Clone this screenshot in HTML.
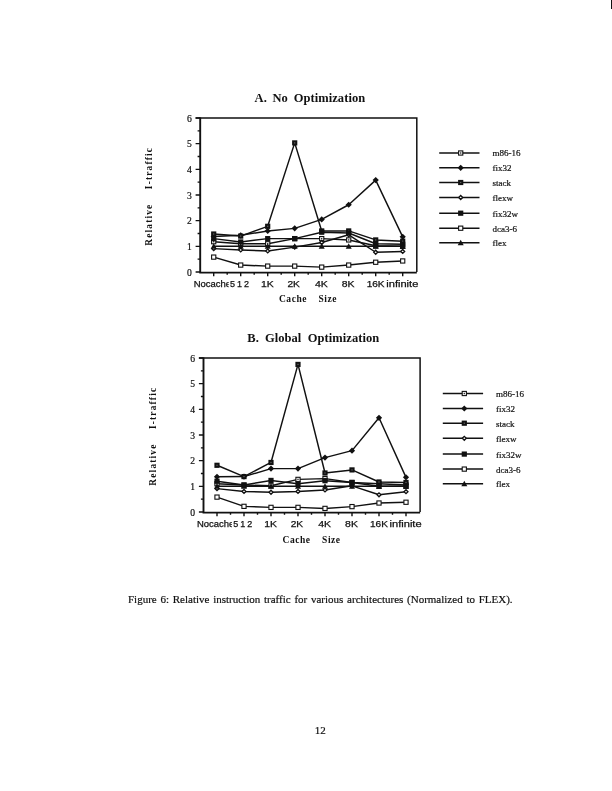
<!DOCTYPE html>
<html lang="en"><head><meta charset="utf-8"><title>Figure 6</title>
<style>
html,body{margin:0;padding:0;background:#fff;}
body{width:612px;height:791px;position:relative;overflow:hidden;font-family:"Liberation Serif",serif;color:#111;}
svg{position:absolute;left:0;top:0;}
svg text{fill:#111;white-space:pre;}
.yt{font:9.6px "Liberation Serif",serif;stroke:#111;stroke-width:0.2px;}
.xt{font:9px "Liberation Sans",sans-serif;stroke:#111;stroke-width:0.25px;}
.ttl{font:bold 12.5px "Liberation Serif",serif;letter-spacing:0.06px;}
.tb{letter-spacing:0.15px;}
.axl{font:bold 10px "Liberation Serif",serif;}
.xl{font-size:9.5px;letter-spacing:0.55px;word-spacing:0.9px;}
.yl{font-size:9.3px;letter-spacing:1.2px;word-spacing:1.3px;}
.lg{font:9px "Liberation Serif",serif;stroke:#111;stroke-width:0.2px;}
.cap{position:absolute;left:128.0px;top:591.6px;font-size:11px;line-height:14px;white-space:pre;word-spacing:1.0px;-webkit-text-stroke:0.2px #111;}
.pn{position:absolute;left:314.8px;top:722.5px;font-size:11px;line-height:14px;-webkit-text-stroke:0.2px #111;}
.mark{position:absolute;left:610.5px;top:0;width:2px;height:9px;background:#111;}
</style></head><body>
<svg width="612" height="791" viewBox="0 0 612 791">
<path d="M195.6 118.0H416.8V272.0" fill="none" stroke="#111" stroke-width="1.5"/>
<path d="M200.2 117.5V272.6H416.8" fill="none" stroke="#111" stroke-width="1.9"/>
<path d="M195.6 272.00H200.2 M197.6 259.17H200.2 M195.6 246.33H200.2 M197.6 233.50H200.2 M195.6 220.67H200.2 M197.6 207.83H200.2 M195.6 195.00H200.2 M197.6 182.17H200.2 M195.6 169.33H200.2 M197.6 156.50H200.2 M195.6 143.67H200.2 M197.6 130.83H200.2 M195.6 118.00H200.2 M213.70 272.0V276.2 M227.20 272.0V274.7 M240.70 272.0V276.2 M254.20 272.0V274.7 M267.70 272.0V276.2 M281.20 272.0V274.7 M294.70 272.0V276.2 M308.20 272.0V274.7 M321.70 272.0V276.2 M335.20 272.0V274.7 M348.70 272.0V276.2 M362.20 272.0V274.7 M375.70 272.0V276.2 M389.20 272.0V274.7 M402.70 272.0V276.2" stroke="#111" stroke-width="1.4" fill="none"/>
<text class="yt" x="191.7" y="275.50" text-anchor="end">0</text>
<text class="yt" x="191.7" y="249.83" text-anchor="end">1</text>
<text class="yt" x="191.7" y="224.17" text-anchor="end">2</text>
<text class="yt" x="191.7" y="198.50" text-anchor="end">3</text>
<text class="yt" x="191.7" y="172.83" text-anchor="end">4</text>
<text class="yt" x="191.7" y="147.17" text-anchor="end">5</text>
<text class="yt" x="191.7" y="121.50" text-anchor="end">6</text>
<polyline points="213.70,241.71 240.70,243.77 267.70,243.77 294.70,238.63 321.70,238.63 348.70,239.92 375.70,245.82 402.70,246.33" fill="none" stroke="#111" stroke-width="1.45" stroke-linejoin="round"/>
<rect x="211.60" y="239.61" width="4.2" height="4.2" fill="#fff" stroke="#111" stroke-width="1.1"/><rect x="213.00" y="241.01" width="1.4" height="1.4" fill="#333"/>
<rect x="238.60" y="241.67" width="4.2" height="4.2" fill="#fff" stroke="#111" stroke-width="1.1"/><rect x="240.00" y="243.07" width="1.4" height="1.4" fill="#333"/>
<rect x="265.60" y="241.67" width="4.2" height="4.2" fill="#fff" stroke="#111" stroke-width="1.1"/><rect x="267.00" y="243.07" width="1.4" height="1.4" fill="#333"/>
<rect x="292.60" y="236.53" width="4.2" height="4.2" fill="#fff" stroke="#111" stroke-width="1.1"/><rect x="294.00" y="237.93" width="1.4" height="1.4" fill="#333"/>
<rect x="319.60" y="236.53" width="4.2" height="4.2" fill="#fff" stroke="#111" stroke-width="1.1"/><rect x="321.00" y="237.93" width="1.4" height="1.4" fill="#333"/>
<rect x="346.60" y="237.82" width="4.2" height="4.2" fill="#fff" stroke="#111" stroke-width="1.1"/><rect x="348.00" y="239.22" width="1.4" height="1.4" fill="#333"/>
<rect x="373.60" y="243.72" width="4.2" height="4.2" fill="#fff" stroke="#111" stroke-width="1.1"/><rect x="375.00" y="245.12" width="1.4" height="1.4" fill="#333"/>
<rect x="400.60" y="244.23" width="4.2" height="4.2" fill="#fff" stroke="#111" stroke-width="1.1"/><rect x="402.00" y="245.63" width="1.4" height="1.4" fill="#333"/>
<polyline points="213.70,236.58 240.70,235.30 267.70,230.93 294.70,228.37 321.70,219.38 348.70,204.75 375.70,180.11 402.70,236.84" fill="none" stroke="#111" stroke-width="1.45" stroke-linejoin="round"/>
<path d="M210.60 236.58L213.7 233.48L216.80 236.58L213.7 239.68Z" fill="#111"/>
<path d="M237.60 235.3L240.7 232.20L243.80 235.3L240.7 238.40Z" fill="#111"/>
<path d="M264.60 230.93L267.7 227.83L270.80 230.93L267.7 234.03Z" fill="#111"/>
<path d="M291.60 228.37L294.7 225.27L297.80 228.37L294.7 231.47Z" fill="#111"/>
<path d="M318.60 219.38L321.7 216.28L324.80 219.38L321.7 222.48Z" fill="#111"/>
<path d="M345.60 204.75L348.7 201.65L351.80 204.75L348.7 207.85Z" fill="#111"/>
<path d="M372.60 180.11L375.7 177.01L378.80 180.11L375.7 183.21Z" fill="#111"/>
<path d="M399.60 236.84L402.7 233.74L405.80 236.84L402.7 239.94Z" fill="#111"/>
<polyline points="213.70,234.01 240.70,236.07 267.70,226.31 294.70,142.90 321.70,230.93 348.70,230.93 375.70,239.92 402.70,241.20" fill="none" stroke="#111" stroke-width="1.45" stroke-linejoin="round"/>
<rect x="211.10" y="231.41" width="5.2" height="5.2" fill="#111"/><rect x="213.10" y="233.41" width="1.2" height="1.2" fill="#666"/>
<rect x="238.10" y="233.47" width="5.2" height="5.2" fill="#111"/><rect x="240.10" y="235.47" width="1.2" height="1.2" fill="#666"/>
<rect x="265.10" y="223.71" width="5.2" height="5.2" fill="#111"/><rect x="267.10" y="225.71" width="1.2" height="1.2" fill="#666"/>
<rect x="292.10" y="140.30" width="5.2" height="5.2" fill="#111"/><rect x="294.10" y="142.30" width="1.2" height="1.2" fill="#666"/>
<rect x="319.10" y="228.33" width="5.2" height="5.2" fill="#111"/><rect x="321.10" y="230.33" width="1.2" height="1.2" fill="#666"/>
<rect x="346.10" y="228.33" width="5.2" height="5.2" fill="#111"/><rect x="348.10" y="230.33" width="1.2" height="1.2" fill="#666"/>
<rect x="373.10" y="237.32" width="5.2" height="5.2" fill="#111"/><rect x="375.10" y="239.32" width="1.2" height="1.2" fill="#666"/>
<rect x="400.10" y="238.60" width="5.2" height="5.2" fill="#111"/><rect x="402.10" y="240.60" width="1.2" height="1.2" fill="#666"/>
<polyline points="213.70,248.64 240.70,249.93 267.70,250.95 294.70,247.10 321.70,242.48 348.70,234.78 375.70,252.24 402.70,251.47" fill="none" stroke="#111" stroke-width="1.45" stroke-linejoin="round"/>
<path d="M211.75 248.64L213.7 246.69L215.65 248.64L213.7 250.59Z" fill="#fff" stroke="#111" stroke-width="1.35"/>
<path d="M238.75 249.93L240.7 247.98L242.65 249.93L240.7 251.88Z" fill="#fff" stroke="#111" stroke-width="1.35"/>
<path d="M265.75 250.95L267.7 249.00L269.65 250.95L267.7 252.90Z" fill="#fff" stroke="#111" stroke-width="1.35"/>
<path d="M292.75 247.1L294.7 245.15L296.65 247.1L294.7 249.05Z" fill="#fff" stroke="#111" stroke-width="1.35"/>
<path d="M319.75 242.48L321.7 240.53L323.65 242.48L321.7 244.43Z" fill="#fff" stroke="#111" stroke-width="1.35"/>
<path d="M346.75 234.78L348.7 232.83L350.65 234.78L348.7 236.73Z" fill="#fff" stroke="#111" stroke-width="1.35"/>
<path d="M373.75 252.24L375.7 250.29L377.65 252.24L375.7 254.19Z" fill="#fff" stroke="#111" stroke-width="1.35"/>
<path d="M400.75 251.47L402.7 249.52L404.65 251.47L402.7 253.42Z" fill="#fff" stroke="#111" stroke-width="1.35"/>
<polyline points="213.70,238.63 240.70,241.97 267.70,238.63 294.70,238.63 321.70,232.22 348.70,232.99 375.70,243.77 402.70,244.28" fill="none" stroke="#111" stroke-width="1.45" stroke-linejoin="round"/>
<rect x="211.10" y="236.03" width="5.2" height="5.2" fill="#111"/>
<rect x="238.10" y="239.37" width="5.2" height="5.2" fill="#111"/>
<rect x="265.10" y="236.03" width="5.2" height="5.2" fill="#111"/>
<rect x="292.10" y="236.03" width="5.2" height="5.2" fill="#111"/>
<rect x="319.10" y="229.62" width="5.2" height="5.2" fill="#111"/>
<rect x="346.10" y="230.39" width="5.2" height="5.2" fill="#111"/>
<rect x="373.10" y="241.17" width="5.2" height="5.2" fill="#111"/>
<rect x="400.10" y="241.68" width="5.2" height="5.2" fill="#111"/>
<polyline points="213.70,257.11 240.70,265.07 267.70,266.10 294.70,266.10 321.70,267.12 348.70,265.07 375.70,262.25 402.70,260.96" fill="none" stroke="#111" stroke-width="1.45" stroke-linejoin="round"/>
<rect x="211.60" y="255.01" width="4.2" height="4.2" fill="#fff" stroke="#111" stroke-width="1.1"/>
<rect x="238.60" y="262.97" width="4.2" height="4.2" fill="#fff" stroke="#111" stroke-width="1.1"/>
<rect x="265.60" y="264.00" width="4.2" height="4.2" fill="#fff" stroke="#111" stroke-width="1.1"/>
<rect x="292.60" y="264.00" width="4.2" height="4.2" fill="#fff" stroke="#111" stroke-width="1.1"/>
<rect x="319.60" y="265.02" width="4.2" height="4.2" fill="#fff" stroke="#111" stroke-width="1.1"/>
<rect x="346.60" y="262.97" width="4.2" height="4.2" fill="#fff" stroke="#111" stroke-width="1.1"/>
<rect x="373.60" y="260.15" width="4.2" height="4.2" fill="#fff" stroke="#111" stroke-width="1.1"/>
<rect x="400.60" y="258.86" width="4.2" height="4.2" fill="#fff" stroke="#111" stroke-width="1.1"/>
<polyline points="213.70,246.33 240.70,246.33 267.70,246.33 294.70,246.33 321.70,246.33 348.70,246.33 375.70,246.33 402.70,246.33" fill="none" stroke="#111" stroke-width="1.45" stroke-linejoin="round"/>
<path d="M210.70 248.73L213.7 243.33L216.70 248.73Z" fill="#111"/>
<path d="M237.70 248.73L240.7 243.33L243.70 248.73Z" fill="#111"/>
<path d="M264.70 248.73L267.7 243.33L270.70 248.73Z" fill="#111"/>
<path d="M291.70 248.73L294.7 243.33L297.70 248.73Z" fill="#111"/>
<path d="M318.70 248.73L321.7 243.33L324.70 248.73Z" fill="#111"/>
<path d="M345.70 248.73L348.7 243.33L351.70 248.73Z" fill="#111"/>
<path d="M372.70 248.73L375.7 243.33L378.70 248.73Z" fill="#111"/>
<path d="M399.70 248.73L402.7 243.33L405.70 248.73Z" fill="#111"/>
<clipPath id="c272"><rect x="190.2" y="276.6" width="38.5" height="14"/></clipPath>
<text class="xt" x="193.70" y="286.6" textLength="37.4" lengthAdjust="spacingAndGlyphs" clip-path="url(#c272)">Nocache</text>
<text class="xt" x="230.00" y="286.6" textLength="18.9" lengthAdjust="spacing">512</text>
<text class="xt" x="261.00" y="286.6" textLength="12.8" lengthAdjust="spacingAndGlyphs">1K</text>
<text class="xt" x="287.40" y="286.6" textLength="12.5" lengthAdjust="spacingAndGlyphs">2K</text>
<text class="xt" x="314.90" y="286.6" textLength="12.9" lengthAdjust="spacingAndGlyphs">4K</text>
<text class="xt" x="341.80" y="286.6" textLength="12.8" lengthAdjust="spacingAndGlyphs">8K</text>
<text class="xt" x="366.70" y="286.6" textLength="17.9" lengthAdjust="spacingAndGlyphs">16K</text>
<text class="xt" x="386.30" y="286.6" textLength="32.0" lengthAdjust="spacingAndGlyphs">infinite</text>
<text class="ttl" y="102.2"><tspan x="254.6">A.</tspan> <tspan x="272.5">No</tspan> <tspan x="293.7">Optimization</tspan></text>
<text class="axl xl" x="308.0" y="301.5" text-anchor="middle">Cache   Size</text>
<text class="axl yl" transform="translate(152.3 196.3) rotate(-90)" text-anchor="middle">Relative   I-traffic</text>
<path d="M439.2 153H479.5" stroke="#111" stroke-width="1.5"/>
<rect x="458.60" y="150.90" width="4.2" height="4.2" fill="#fff" stroke="#111" stroke-width="1.1"/><rect x="460.00" y="152.30" width="1.4" height="1.4" fill="#333"/>
<text class="lg" x="492.4" y="156.4">m86-16</text>
<path d="M439.2 167.8H479.5" stroke="#111" stroke-width="1.5"/>
<path d="M457.60 167.8L460.7 164.70L463.80 167.8L460.7 170.90Z" fill="#111"/>
<text class="lg" x="492.4" y="171.2">fix32</text>
<path d="M439.2 182.5H479.5" stroke="#111" stroke-width="1.5"/>
<rect x="458.10" y="179.90" width="5.2" height="5.2" fill="#111"/><rect x="460.10" y="181.90" width="1.2" height="1.2" fill="#666"/>
<text class="lg" x="492.4" y="185.9">stack</text>
<path d="M439.2 197.5H479.5" stroke="#111" stroke-width="1.5"/>
<path d="M458.75 197.5L460.7 195.55L462.65 197.5L460.7 199.45Z" fill="#fff" stroke="#111" stroke-width="1.35"/>
<text class="lg" x="492.4" y="200.9">flexw</text>
<path d="M439.2 213.2H479.5" stroke="#111" stroke-width="1.5"/>
<rect x="458.10" y="210.60" width="5.2" height="5.2" fill="#111"/>
<text class="lg" x="492.4" y="216.6">fix32w</text>
<path d="M439.2 228.2H479.5" stroke="#111" stroke-width="1.5"/>
<rect x="458.60" y="226.10" width="4.2" height="4.2" fill="#fff" stroke="#111" stroke-width="1.1"/>
<text class="lg" x="492.4" y="231.6">dca3-6</text>
<path d="M439.2 242.8H479.5" stroke="#111" stroke-width="1.5"/>
<path d="M457.70 245.20L460.7 239.80L463.70 245.20Z" fill="#111"/>
<text class="lg" x="492.4" y="246.2">flex</text>
<path d="M198.9 358.0H420.1V512.0" fill="none" stroke="#111" stroke-width="1.5"/>
<path d="M203.5 357.5V512.6H420.1" fill="none" stroke="#111" stroke-width="1.9"/>
<path d="M198.9 512.00H203.5 M200.9 499.17H203.5 M198.9 486.33H203.5 M200.9 473.50H203.5 M198.9 460.67H203.5 M200.9 447.83H203.5 M198.9 435.00H203.5 M200.9 422.17H203.5 M198.9 409.33H203.5 M200.9 396.50H203.5 M198.9 383.67H203.5 M200.9 370.83H203.5 M198.9 358.00H203.5 M217.00 512.0V516.2 M230.50 512.0V514.7 M244.00 512.0V516.2 M257.50 512.0V514.7 M271.00 512.0V516.2 M284.50 512.0V514.7 M298.00 512.0V516.2 M311.50 512.0V514.7 M325.00 512.0V516.2 M338.50 512.0V514.7 M352.00 512.0V516.2 M365.50 512.0V514.7 M379.00 512.0V516.2 M392.50 512.0V514.7 M406.00 512.0V516.2" stroke="#111" stroke-width="1.4" fill="none"/>
<text class="yt" x="195.0" y="515.50" text-anchor="end">0</text>
<text class="yt" x="195.0" y="489.83" text-anchor="end">1</text>
<text class="yt" x="195.0" y="464.17" text-anchor="end">2</text>
<text class="yt" x="195.0" y="438.50" text-anchor="end">3</text>
<text class="yt" x="195.0" y="412.83" text-anchor="end">4</text>
<text class="yt" x="195.0" y="387.17" text-anchor="end">5</text>
<text class="yt" x="195.0" y="361.50" text-anchor="end">6</text>
<polyline points="217.00,483.77 244.00,485.05 271.00,485.82 298.00,479.40 325.00,478.63 352.00,482.48 379.00,483.77 406.00,485.05" fill="none" stroke="#111" stroke-width="1.45" stroke-linejoin="round"/>
<rect x="214.90" y="481.67" width="4.2" height="4.2" fill="#fff" stroke="#111" stroke-width="1.1"/><rect x="216.30" y="483.07" width="1.4" height="1.4" fill="#333"/>
<rect x="241.90" y="482.95" width="4.2" height="4.2" fill="#fff" stroke="#111" stroke-width="1.1"/><rect x="243.30" y="484.35" width="1.4" height="1.4" fill="#333"/>
<rect x="268.90" y="483.72" width="4.2" height="4.2" fill="#fff" stroke="#111" stroke-width="1.1"/><rect x="270.30" y="485.12" width="1.4" height="1.4" fill="#333"/>
<rect x="295.90" y="477.30" width="4.2" height="4.2" fill="#fff" stroke="#111" stroke-width="1.1"/><rect x="297.30" y="478.70" width="1.4" height="1.4" fill="#333"/>
<rect x="322.90" y="476.53" width="4.2" height="4.2" fill="#fff" stroke="#111" stroke-width="1.1"/><rect x="324.30" y="477.93" width="1.4" height="1.4" fill="#333"/>
<rect x="349.90" y="480.38" width="4.2" height="4.2" fill="#fff" stroke="#111" stroke-width="1.1"/><rect x="351.30" y="481.78" width="1.4" height="1.4" fill="#333"/>
<rect x="376.90" y="481.67" width="4.2" height="4.2" fill="#fff" stroke="#111" stroke-width="1.1"/><rect x="378.30" y="483.07" width="1.4" height="1.4" fill="#333"/>
<rect x="403.90" y="482.95" width="4.2" height="4.2" fill="#fff" stroke="#111" stroke-width="1.1"/><rect x="405.30" y="484.35" width="1.4" height="1.4" fill="#333"/>
<polyline points="217.00,476.84 244.00,476.58 271.00,468.62 298.00,468.62 325.00,457.59 352.00,450.66 379.00,417.80 406.00,477.35" fill="none" stroke="#111" stroke-width="1.45" stroke-linejoin="round"/>
<path d="M213.90 476.84L217.0 473.74L220.10 476.84L217.0 479.94Z" fill="#111"/>
<path d="M240.90 476.58L244.0 473.48L247.10 476.58L244.0 479.68Z" fill="#111"/>
<path d="M267.90 468.62L271.0 465.52L274.10 468.62L271.0 471.72Z" fill="#111"/>
<path d="M294.90 468.62L298.0 465.52L301.10 468.62L298.0 471.72Z" fill="#111"/>
<path d="M321.90 457.59L325.0 454.49L328.10 457.59L325.0 460.69Z" fill="#111"/>
<path d="M348.90 450.66L352.0 447.56L355.10 450.66L352.0 453.76Z" fill="#111"/>
<path d="M375.90 417.8L379.0 414.70L382.10 417.8L379.0 420.90Z" fill="#111"/>
<path d="M402.90 477.35L406.0 474.25L409.10 477.35L406.0 480.45Z" fill="#111"/>
<polyline points="217.00,465.29 244.00,476.58 271.00,462.46 298.00,364.42 325.00,472.99 352.00,469.91 379.00,481.97 406.00,482.48" fill="none" stroke="#111" stroke-width="1.45" stroke-linejoin="round"/>
<rect x="214.40" y="462.69" width="5.2" height="5.2" fill="#111"/><rect x="216.40" y="464.69" width="1.2" height="1.2" fill="#666"/>
<rect x="241.40" y="473.98" width="5.2" height="5.2" fill="#111"/><rect x="243.40" y="475.98" width="1.2" height="1.2" fill="#666"/>
<rect x="268.40" y="459.86" width="5.2" height="5.2" fill="#111"/><rect x="270.40" y="461.86" width="1.2" height="1.2" fill="#666"/>
<rect x="295.40" y="361.82" width="5.2" height="5.2" fill="#111"/><rect x="297.40" y="363.82" width="1.2" height="1.2" fill="#666"/>
<rect x="322.40" y="470.39" width="5.2" height="5.2" fill="#111"/><rect x="324.40" y="472.39" width="1.2" height="1.2" fill="#666"/>
<rect x="349.40" y="467.31" width="5.2" height="5.2" fill="#111"/><rect x="351.40" y="469.31" width="1.2" height="1.2" fill="#666"/>
<rect x="376.40" y="479.37" width="5.2" height="5.2" fill="#111"/><rect x="378.40" y="481.37" width="1.2" height="1.2" fill="#666"/>
<rect x="403.40" y="479.88" width="5.2" height="5.2" fill="#111"/><rect x="405.40" y="481.88" width="1.2" height="1.2" fill="#666"/>
<polyline points="217.00,488.64 244.00,491.47 271.00,492.24 298.00,491.47 325.00,489.93 352.00,485.82 379.00,494.80 406.00,491.72" fill="none" stroke="#111" stroke-width="1.45" stroke-linejoin="round"/>
<path d="M215.05 488.64L217.0 486.69L218.95 488.64L217.0 490.59Z" fill="#fff" stroke="#111" stroke-width="1.35"/>
<path d="M242.05 491.47L244.0 489.52L245.95 491.47L244.0 493.42Z" fill="#fff" stroke="#111" stroke-width="1.35"/>
<path d="M269.05 492.24L271.0 490.29L272.95 492.24L271.0 494.19Z" fill="#fff" stroke="#111" stroke-width="1.35"/>
<path d="M296.05 491.47L298.0 489.52L299.95 491.47L298.0 493.42Z" fill="#fff" stroke="#111" stroke-width="1.35"/>
<path d="M323.05 489.93L325.0 487.98L326.95 489.93L325.0 491.88Z" fill="#fff" stroke="#111" stroke-width="1.35"/>
<path d="M350.05 485.82L352.0 483.87L353.95 485.82L352.0 487.77Z" fill="#fff" stroke="#111" stroke-width="1.35"/>
<path d="M377.05 494.8L379.0 492.85L380.95 494.8L379.0 496.75Z" fill="#fff" stroke="#111" stroke-width="1.35"/>
<path d="M404.05 491.72L406.0 489.77L407.95 491.72L406.0 493.67Z" fill="#fff" stroke="#111" stroke-width="1.35"/>
<polyline points="217.00,481.20 244.00,485.05 271.00,480.43 298.00,483.77 325.00,480.69 352.00,482.48 379.00,486.33 406.00,486.33" fill="none" stroke="#111" stroke-width="1.45" stroke-linejoin="round"/>
<rect x="214.40" y="478.60" width="5.2" height="5.2" fill="#111"/>
<rect x="241.40" y="482.45" width="5.2" height="5.2" fill="#111"/>
<rect x="268.40" y="477.83" width="5.2" height="5.2" fill="#111"/>
<rect x="295.40" y="481.17" width="5.2" height="5.2" fill="#111"/>
<rect x="322.40" y="478.09" width="5.2" height="5.2" fill="#111"/>
<rect x="349.40" y="479.88" width="5.2" height="5.2" fill="#111"/>
<rect x="376.40" y="483.73" width="5.2" height="5.2" fill="#111"/>
<rect x="403.40" y="483.73" width="5.2" height="5.2" fill="#111"/>
<polyline points="217.00,497.11 244.00,506.35 271.00,507.38 298.00,507.38 325.00,508.41 352.00,506.61 379.00,503.02 406.00,502.25" fill="none" stroke="#111" stroke-width="1.45" stroke-linejoin="round"/>
<rect x="214.90" y="495.01" width="4.2" height="4.2" fill="#fff" stroke="#111" stroke-width="1.1"/>
<rect x="241.90" y="504.25" width="4.2" height="4.2" fill="#fff" stroke="#111" stroke-width="1.1"/>
<rect x="268.90" y="505.28" width="4.2" height="4.2" fill="#fff" stroke="#111" stroke-width="1.1"/>
<rect x="295.90" y="505.28" width="4.2" height="4.2" fill="#fff" stroke="#111" stroke-width="1.1"/>
<rect x="322.90" y="506.31" width="4.2" height="4.2" fill="#fff" stroke="#111" stroke-width="1.1"/>
<rect x="349.90" y="504.51" width="4.2" height="4.2" fill="#fff" stroke="#111" stroke-width="1.1"/>
<rect x="376.90" y="500.92" width="4.2" height="4.2" fill="#fff" stroke="#111" stroke-width="1.1"/>
<rect x="403.90" y="500.15" width="4.2" height="4.2" fill="#fff" stroke="#111" stroke-width="1.1"/>
<polyline points="217.00,486.33 244.00,486.33 271.00,486.33 298.00,486.33 325.00,486.33 352.00,486.33 379.00,486.33 406.00,486.33" fill="none" stroke="#111" stroke-width="1.45" stroke-linejoin="round"/>
<path d="M214.00 488.73L217.0 483.33L220.00 488.73Z" fill="#111"/>
<path d="M241.00 488.73L244.0 483.33L247.00 488.73Z" fill="#111"/>
<path d="M268.00 488.73L271.0 483.33L274.00 488.73Z" fill="#111"/>
<path d="M295.00 488.73L298.0 483.33L301.00 488.73Z" fill="#111"/>
<path d="M322.00 488.73L325.0 483.33L328.00 488.73Z" fill="#111"/>
<path d="M349.00 488.73L352.0 483.33L355.00 488.73Z" fill="#111"/>
<path d="M376.00 488.73L379.0 483.33L382.00 488.73Z" fill="#111"/>
<path d="M403.00 488.73L406.0 483.33L409.00 488.73Z" fill="#111"/>
<clipPath id="c512"><rect x="193.5" y="516.6" width="38.5" height="14"/></clipPath>
<text class="xt" x="197.00" y="526.6" textLength="37.4" lengthAdjust="spacingAndGlyphs" clip-path="url(#c512)">Nocache</text>
<text class="xt" x="233.30" y="526.6" textLength="18.9" lengthAdjust="spacing">512</text>
<text class="xt" x="264.30" y="526.6" textLength="12.8" lengthAdjust="spacingAndGlyphs">1K</text>
<text class="xt" x="290.70" y="526.6" textLength="12.5" lengthAdjust="spacingAndGlyphs">2K</text>
<text class="xt" x="318.20" y="526.6" textLength="12.9" lengthAdjust="spacingAndGlyphs">4K</text>
<text class="xt" x="345.10" y="526.6" textLength="12.8" lengthAdjust="spacingAndGlyphs">8K</text>
<text class="xt" x="370.00" y="526.6" textLength="17.9" lengthAdjust="spacingAndGlyphs">16K</text>
<text class="xt" x="389.60" y="526.6" textLength="32.0" lengthAdjust="spacingAndGlyphs">infinite</text>
<text class="ttl" y="341.9"><tspan x="247.3">B.</tspan> <tspan x="264.9">Global</tspan> <tspan x="307.8">Optimization</tspan></text>
<text class="axl xl" x="311.6" y="543.0" text-anchor="middle">Cache   Size</text>
<text class="axl yl" transform="translate(155.5 436.2) rotate(-90)" text-anchor="middle">Relative   I-traffic</text>
<path d="M442.8 393.5H483.1" stroke="#111" stroke-width="1.5"/>
<rect x="462.20" y="391.40" width="4.2" height="4.2" fill="#fff" stroke="#111" stroke-width="1.1"/><rect x="463.60" y="392.80" width="1.4" height="1.4" fill="#333"/>
<text class="lg" x="496.0" y="396.9">m86-16</text>
<path d="M442.8 408.5H483.1" stroke="#111" stroke-width="1.5"/>
<path d="M461.20 408.5L464.3 405.40L467.40 408.5L464.3 411.60Z" fill="#111"/>
<text class="lg" x="496.0" y="411.9">fix32</text>
<path d="M442.8 423.2H483.1" stroke="#111" stroke-width="1.5"/>
<rect x="461.70" y="420.60" width="5.2" height="5.2" fill="#111"/><rect x="463.70" y="422.60" width="1.2" height="1.2" fill="#666"/>
<text class="lg" x="496.0" y="426.6">stack</text>
<path d="M442.8 438.3H483.1" stroke="#111" stroke-width="1.5"/>
<path d="M462.35 438.3L464.3 436.35L466.25 438.3L464.3 440.25Z" fill="#fff" stroke="#111" stroke-width="1.35"/>
<text class="lg" x="496.0" y="441.7">flexw</text>
<path d="M442.8 454.1H483.1" stroke="#111" stroke-width="1.5"/>
<rect x="461.70" y="451.50" width="5.2" height="5.2" fill="#111"/>
<text class="lg" x="496.0" y="457.5">fix32w</text>
<path d="M442.8 469.1H483.1" stroke="#111" stroke-width="1.5"/>
<rect x="462.20" y="467.00" width="4.2" height="4.2" fill="#fff" stroke="#111" stroke-width="1.1"/>
<text class="lg" x="496.0" y="472.5">dca3-6</text>
<path d="M442.8 483.8H483.1" stroke="#111" stroke-width="1.5"/>
<path d="M461.30 486.20L464.3 480.80L467.30 486.20Z" fill="#111"/>
<text class="lg" x="496.0" y="487.2">flex</text>
</svg>
<div class="cap">Figure 6: Relative instruction traffic for various architectures (Normalized to FLEX).</div>
<div class="pn">12</div>
<div class="mark"></div>
</body></html>
